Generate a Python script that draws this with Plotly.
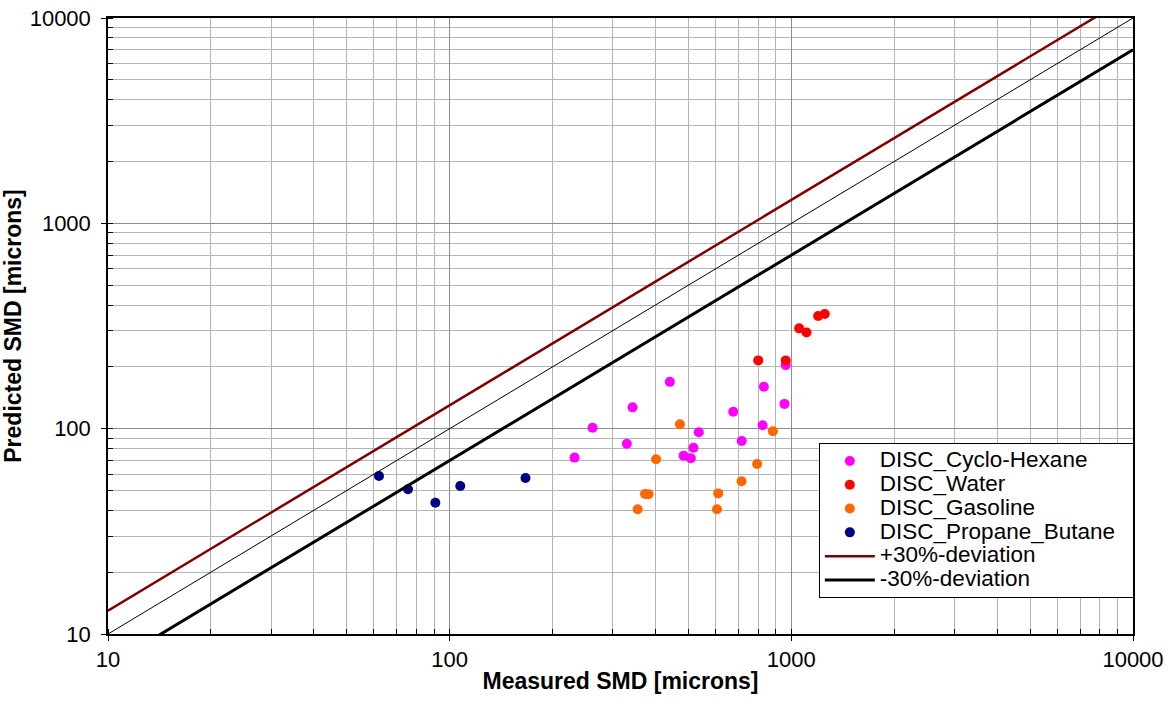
import plotly.graph_objects as go

# ---- data ----
cyclo_x = [441, 343, 262, 232, 330, 536, 517, 484, 508, 676, 716, 824, 831, 955, 963]
cyclo_y = [169, 127, 101, 72.3, 84.5, 96, 80.8, 73.9, 71.7, 121, 87.1, 104, 160, 132, 204]

water_x = [800, 963, 1054, 1108, 1198, 1253]
water_y = [215, 215, 308, 294, 354, 362]

gasoline_x = [472, 402, 373, 382, 355, 611, 606, 715, 794, 883]
gasoline_y = [105, 71, 48.1, 47.9, 40.5, 48.4, 40.5, 55.4, 67.3, 97.1]

propane_x = [62.1, 75.5, 90.8, 107.4, 166.7]
propane_y = [58.8, 50.7, 43.6, 52.6, 57.5]

line_x = [10, 10000]
plus30_y = [13, 13000]
ident_y = [10, 10000]
minus30_y = [7, 7000]

tick_vals = [10, 100, 1000, 10000]
tick_text = ["10", "100", "1000", "10000"]

FONT = "Liberation Sans, Arial, sans-serif"


def lg(name, pad=""):
    return "<span style='font-size:22.5px'>" + name + pad + "</span>"


fig = go.Figure()
mk = dict(size=10)
fig.add_trace(go.Scatter(x=cyclo_x, y=cyclo_y, mode="markers", name=lg("DISC_Cyclo-Hexane"),
                         marker=dict(color="#ff00ff", **mk)))
fig.add_trace(go.Scatter(x=water_x, y=water_y, mode="markers", name=lg("DISC_Water"),
                         marker=dict(color="#ff0000", **mk)))
fig.add_trace(go.Scatter(x=gasoline_x, y=gasoline_y, mode="markers", name=lg("DISC_Gasoline"),
                         marker=dict(color="#ff6600", **mk)))
fig.add_trace(go.Scatter(x=propane_x, y=propane_y, mode="markers",
                         name=lg("DISC_Propane_Butane", "&nbsp;&nbsp;"),
                         marker=dict(color="#000080", **mk)))
fig.add_trace(go.Scatter(x=line_x, y=plus30_y, mode="lines", name=lg("+30%-deviation"),
                         line=dict(color="#800000", width=2.5)))
fig.add_trace(go.Scatter(x=line_x, y=minus30_y, mode="lines", name=lg("-30%-deviation"),
                         line=dict(color="#000000", width=3)))
fig.add_trace(go.Scatter(x=line_x, y=ident_y, mode="lines", showlegend=False,
                         line=dict(color="#000000", width=1)))

axis_common = dict(
    type="log",
    automargin=False,
    tickvals=tick_vals, ticktext=tick_text,
    showgrid=True, gridcolor="#8c8c8c", gridwidth=1,
    minor=dict(dtick="D1", showgrid=True, gridcolor="#b4b4b4", gridwidth=1,
               ticks="inside", ticklen=5, tickcolor="#000"),
    ticks="outside", ticklen=5, tickcolor="#000",
    showline=True, linecolor="#000", linewidth=1.5, mirror=True,
    zeroline=False,
    tickfont=dict(family=FONT, size=22, color="#000"),
)

fig.update_xaxes(range=[1, 4], **axis_common,
                 title=dict(text="<b>Measured SMD [microns]</b>",
                            font=dict(family=FONT, size=23, color="#000"), standoff=2))
fig.update_yaxes(range=[1, 4], ticklabelstandoff=6, **axis_common,
                 title=dict(text="<b>Predicted SMD [microns]</b>",
                            font=dict(family=FONT, size=23, color="#000"), standoff=4))

fig.update_layout(
    width=1171, height=706,
    margin=dict(l=108, r=38, t=18, b=72),
    paper_bgcolor="white", plot_bgcolor="white",
    font=dict(family=FONT, color="#000"),
    legend=dict(x=0.6935, y=0.31, xanchor="left", yanchor="top",
                bgcolor="white", bordercolor="#000", borderwidth=1,
                font=dict(family=FONT, size=16, color="#000"),
                tracegroupgap=0, itemwidth=50),
)

fig.write_html("out.html")
